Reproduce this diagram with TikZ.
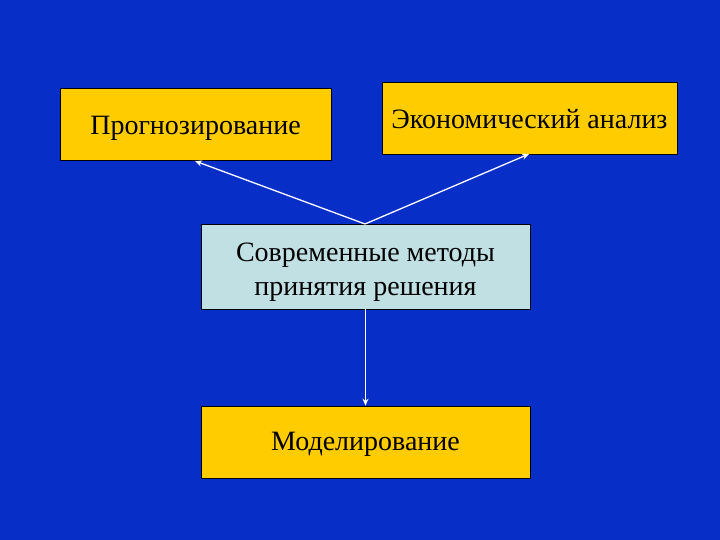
\documentclass[tikz,border=0pt]{standalone}
\usepackage{fontspec}
\setmainfont{Liberation Serif}
\definecolor{bg}{RGB}{8,46,200}
\definecolor{ybox}{RGB}{255,204,0}
\definecolor{lbox}{RGB}{192,224,228}
\tikzset{
  box/.style={draw=black, line width=0.8pt, inner sep=0pt, font=\fontsize{28}{34}\selectfont, text=black, align=center},
  arr/.style={draw=white, line width=1.3pt, -{Stealth[length=7pt,width=6pt]}}
}
\usetikzlibrary{arrows.meta}
\begin{document}
\begin{tikzpicture}[x=1pt,y=1pt]
\fill[bg] (0,0) rectangle (720,540);
\useasboundingbox (0,0) rectangle (720,540);
\node[box, fill=ybox, minimum width=271pt, minimum height=72pt, text height=25pt] (prog) at (195.5,415.5) {Прогнозирование};
\node[box, fill=ybox, minimum width=295pt, minimum height=72pt, text height=21pt] (econ) at (529.5,422) {Экономический анализ};
\node[box, fill=lbox, minimum width=329pt, minimum height=85pt,
  label={[font=\fontsize{28}{34}\selectfont, align=center, yshift=-6pt]center:Современные методы\\принятия решения}] (sovr) at (365.5,273.5) {};
\node[box, fill=ybox, minimum width=329pt, minimum height=72pt, text height=23pt] (model) at (365.5,98) {Моделирование};
\coordinate (top) at (365,316);
\coordinate (pe) at (195,379);
\coordinate (ee) at (529,386);
\draw[arr] (top) -- (pe);
\draw[arr] (top) -- (ee);
\draw[arr] (sovr.south) -- (model.north);
\end{tikzpicture}
\end{document}
